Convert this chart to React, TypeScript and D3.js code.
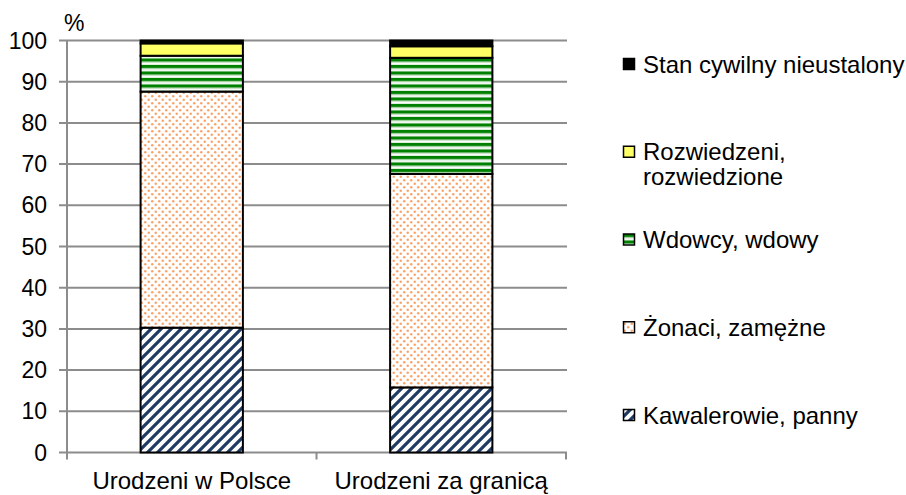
import React from "react";
import * as d3 from "d3";

const categories = ["Urodzeni w Polsce", "Urodzeni za granicą"];
const seriesNames = [
  "Kawalerowie, panny",
  "Żonaci, zamężne",
  "Wdowcy, wdowy",
  "Rozwiedzeni, rozwiedzione",
  "Stan cywilny nieustalony",
];
const kawalerowie = [30.3, 15.8];
const zonaci = [57.3, 51.8];
const wdowcy = [8.7, 28.2];
const rozwiedzeni = [3.0, 2.8];
const nieustalony = [0.7, 1.4];
const yTicks = [0, 10, 20, 30, 40, 50, 60, 70, 80, 90, 100];
const legendLines = [
  ["Stan cywilny nieustalony"],
  ["Rozwiedzeni,", "rozwiedzione"],
  ["Wdowcy, wdowy"],
  ["Żonaci, zamężne"],
  ["Kawalerowie, panny"],
];

const fills = [
  "url(#pStripes)",
  "url(#pDots)",
  "url(#pGreen)",
  "#FFFF66",
  "#000000",
];

const FONT = "'Liberation Sans', Arial, sans-serif";

export default function App() {
  const W = 906;
  const H = 495;
  const x0 = 67;
  const x1 = 566;
  const yTop = 40.5;
  const yBot = 452.5;

  const y = d3.scaleLinear().domain([0, 100]).range([yBot, yTop]);
  const x = d3
    .scaleBand<string>()
    .domain(categories)
    .range([x0, x1])
    .paddingInner(0.59)
    .paddingOuter(0.295);

  const rows = categories.map((c, i) => ({
    cat: c,
    s0: kawalerowie[i],
    s1: zonaci[i],
    s2: wdowcy[i],
    s3: rozwiedzeni[i],
    s4: nieustalony[i],
  }));
  const keys = ["s0", "s1", "s2", "s3", "s4"];
  const stacked = d3.stack<any>().keys(keys)(rows);

  const legendY = d3.scaleLinear().domain([0, 4]).range([64, 415]);
  const step = x.step();

  return (
    <svg
      width={W}
      height={H}
      style={{ position: "absolute", left: 0, top: 0, background: "#fff" }}
      fontFamily={FONT}
    >
      <defs>
        <pattern id="pStripes" patternUnits="userSpaceOnUse" width="10" height="10">
          <rect width="10" height="10" fill="#fff" />
          <path
            d="M-2.5,2.5 L2.5,-2.5 M0,10 L10,0 M7.5,12.5 L12.5,7.5"
            stroke="#1F3B63"
            strokeWidth="3.2"
          />
        </pattern>
        <pattern id="pDots" patternUnits="userSpaceOnUse" width="7" height="7">
          <rect width="7" height="7" fill="#fff" />
          <circle cx="1.75" cy="1.75" r="1.3" fill="#FAB080" />
          <circle cx="5.25" cy="5.25" r="1.3" fill="#FAB080" />
          <circle cx="1.75" cy="1.75" r="0.7" fill="#F79A55" />
          <circle cx="5.25" cy="5.25" r="0.7" fill="#F79A55" />
        </pattern>
        <pattern id="pGreen" patternUnits="userSpaceOnUse" width="6" height="6.5">
          <rect width="6" height="6.5" fill="#fff" />
          <rect y="0" width="6" height="3" fill="#008000" />
          <rect y="3" width="6" height="1" fill="#80C080" />
          <rect y="6" width="6" height="0.5" fill="#C0E0C0" />
        </pattern>
      </defs>

      {/* gridlines and y ticks */}
      {yTicks.map((t) => (
        <g key={t}>
          <line
            x1={x0 - 8}
            x2={x1 + 1}
            y1={y(t)}
            y2={y(t)}
            stroke="#8C8C8C"
            strokeWidth={2}
          />
          <text
            x={47}
            y={y(t) + 8}
            textAnchor="end"
            fontSize={23}
            fill="#000"
          >
            {t}
          </text>
        </g>
      ))}
      {/* y axis */}
      <line x1={x0} x2={x0} y1={yTop} y2={yBot} stroke="#8C8C8C" strokeWidth={2} />
      {/* x category ticks */}
      {[0, 1, 2].map((i) => (
        <line
          key={i}
          x1={x0 + i * step}
          x2={x0 + i * step}
          y1={yBot}
          y2={yBot + 7}
          stroke="#8C8C8C"
          strokeWidth={2}
        />
      ))}
      <text x={64} y={31} fontSize={23} fill="#000">
        %
      </text>

      {/* bars */}
      {stacked.map((layer, li) => (
        <g key={li}>
          {layer.map((d, i) => (
            <rect
              key={i}
              x={x(categories[i])}
              width={x.bandwidth()}
              y={y(d[1])}
              height={y(d[0]) - y(d[1])}
              fill={fills[li]}
              stroke="#000"
              strokeWidth={2}
            />
          ))}
        </g>
      ))}

      {/* category labels */}
      {categories.map((c) => (
        <text
          key={c}
          x={(x(c) as number) + x.bandwidth() / 2}
          y={489}
          textAnchor="middle"
          fontSize={24}
          fill="#000"
        >
          {c}
        </text>
      ))}

      {/* legend */}
      {legendLines.map((lines, i) => {
        const cy = legendY(i);
        const fi = 4 - i;
        return (
          <g key={i}>
            <rect
              x={623.5}
              y={cy - 5.5}
              width={11}
              height={11}
              fill={fills[fi]}
              stroke="#000"
              strokeWidth={1.5}
            />
            {lines.map((ln, j) => (
              <text
                key={j}
                x={643}
                y={cy + 8.5 + j * 25}
                fontSize={24}
                fill="#000"
              >
                {ln}
              </text>
            ))}
          </g>
        );
      })}
    </svg>
  );
}
